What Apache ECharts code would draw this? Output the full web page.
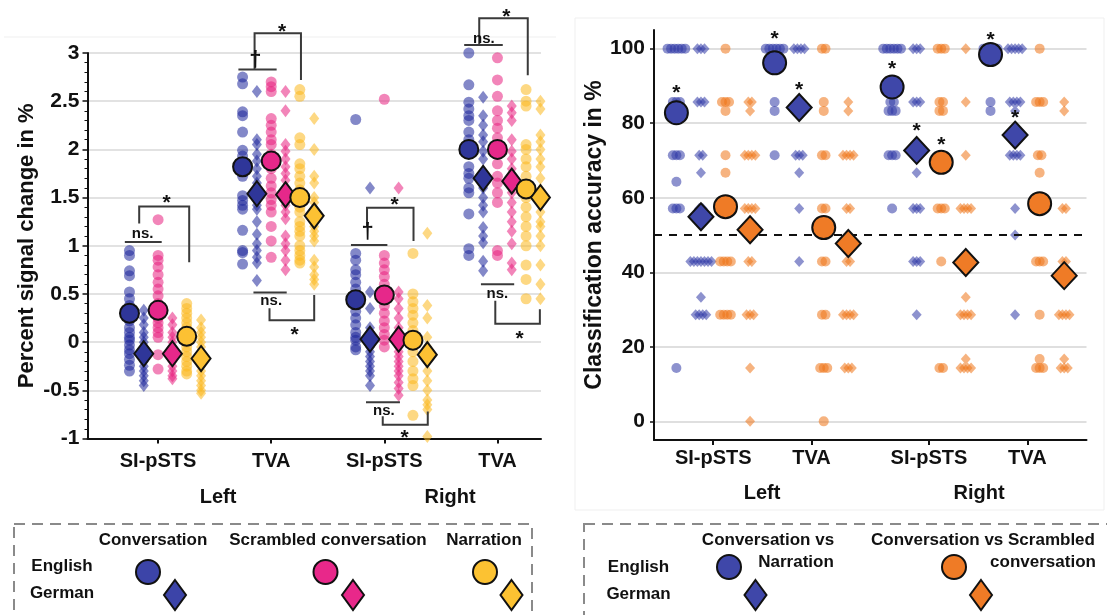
<!DOCTYPE html>
<html><head><meta charset="utf-8">
<script src="https://cdn.jsdelivr.net/npm/echarts@6/dist/echarts.min.js"></script>
<style>html,body{margin:0;padding:0;background:#fff}#c{width:1107px;height:615px}</style>
</head><body><div id="c"></div>
<script>
// ---------- Left panel: percent signal change ----------
const LEFT_CATS = ['SI-pSTS', 'TVA', 'SI-pSTS', 'TVA'];
const LEFT_POS = [1, 2, 3, 4];
const LEFT_GROUPS = ['Left', 'Right'];

// individual subjects, one list per region (L SI-pSTS, L TVA, R SI-pSTS, R TVA)
const L_EN_CONV = [
  [0.95, 0.9, 0.74, 0.69, 0.52, 0.45, 0.38, 0.33, 0.27, 0.22, 0.15, 0.1, 0.05, 0.02, -0.03, -0.08, -0.12, -0.18, -0.24, -0.3],
  [2.75, 2.68, 2.39, 2.35, 2.18, 1.99, 1.93, 1.78, 1.72, 1.52, 1.47, 1.42, 1.38, 1.16, 0.95, 0.93, 0.81],
  [2.31, 0.92, 0.85, 0.75, 0.7, 0.62, 0.55, 0.48, 0.4, 0.32, 0.25, 0.18, 0.1, 0.05, 0.02, -0.05, -0.08],
  [3.0, 2.67, 2.49, 2.42, 2.35, 2.3, 2.18, 2.1, 2.05, 1.82, 1.75, 1.7, 1.6, 1.55, 1.33, 0.97, 0.9]
];
const L_DE_CONV = [
  [0.33, 0.25, 0.18, 0.1, 0.05, 0.0, -0.05, -0.1, -0.15, -0.2, -0.25, -0.3, -0.35, -0.4, -0.45, -0.18],
  [2.6, 2.1, 2.05, 1.95, 1.88, 1.8, 1.72, 1.65, 1.58, 1.5, 1.42, 1.38, 1.25, 1.12, 1.02, 0.95, 0.88, 0.82, 0.64],
  [1.6, 0.52, 0.35, 0.15, 0.1, 0.05, 0.0, -0.05, -0.1, -0.15, -0.2, -0.25, -0.3, -0.35, -0.45],
  [2.54, 2.35, 2.25, 2.15, 2.08, 1.98, 1.9, 1.77, 1.7, 1.6, 1.5, 1.42, 1.35, 1.19, 1.1, 1.03, 0.84, 0.74]
];
const L_EN_SCR = [
  [1.27, 0.9, 0.85, 0.78, 0.7, 0.62, 0.55, 0.48, 0.4, 0.35, 0.3, 0.25, 0.2, 0.15, 0.1, 0.05, -0.13, -0.28],
  [2.7, 2.65, 2.6, 2.32, 2.25, 2.18, 2.1, 2.05, 1.95, 1.8, 1.7, 1.62, 1.55, 1.48, 1.42, 1.35, 1.2, 1.05, 0.88],
  [2.52, 0.9, 0.82, 0.75, 0.68, 0.6, 0.52, 0.45, 0.38, 0.3, 0.22, 0.15, 0.08, 0.02, -0.05],
  [2.95, 2.72, 2.55, 2.4, 2.3, 2.22, 2.12, 2.05, 1.95, 1.85, 1.72, 1.65, 1.55, 1.45, 0.95, 0.9]
];
const L_DE_SCR = [
  [0.25, 0.18, 0.1, 0.05, 0.0, -0.05, -0.1, -0.15, -0.2, -0.25, -0.3, -0.35, -0.38],
  [2.6, 2.4, 2.05, 1.98, 1.9, 1.82, 1.75, 1.68, 1.6, 1.5, 1.42, 1.35, 1.28, 1.1, 1.02, 0.95, 0.85, 0.75],
  [1.6, 0.52, 0.45, 0.35, 0.25, 0.15, 0.05, 0.0, -0.05, -0.1, -0.15, -0.2, -0.25, -0.3, -0.35, -0.42, -0.48, -0.55],
  [2.45, 2.38, 2.3, 2.1, 1.98, 1.9, 1.8, 1.72, 1.62, 1.55, 1.45, 1.35, 1.25, 1.15, 1.02, 0.82, 0.75]
];
const L_EN_NAR = [
  [0.4, 0.35, 0.3, 0.25, 0.2, 0.15, 0.1, 0.05, 0.0, -0.05, -0.1, -0.15, -0.2, -0.25, -0.3, -0.33],
  [2.62, 2.55, 2.12, 2.05, 1.85, 1.8, 1.72, 1.65, 1.58, 1.45, 1.4, 1.35, 1.25, 1.2, 1.15, 1.1, 1.0, 0.95, 0.9, 0.85, 0.82],
  [0.92, 0.5, 0.42, 0.35, 0.28, 0.2, 0.12, 0.05, 0.0, -0.1, -0.2, -0.3, -0.38, -0.45, -0.76],
  [2.62, 2.5, 2.45, 2.05, 2.0, 1.9, 1.82, 1.72, 1.62, 1.5, 1.4, 1.3, 1.2, 1.1, 1.0, 0.8, 0.65, 0.45]
];
const L_DE_NAR = [
  [0.23, 0.15, 0.1, 0.05, 0.0, -0.05, -0.1, -0.15, -0.2, -0.25, -0.3, -0.35, -0.4, -0.45, -0.5, -0.53],
  [2.32, 2.0, 1.72, 1.65, 1.5, 1.45, 1.38, 1.28, 1.2, 1.15, 1.1, 1.05, 0.85, 0.78, 0.7, 0.65, 0.6],
  [1.13, 0.38, 0.25, 0.05, -0.05, -0.1, -0.2, -0.3, -0.4, -0.5, -0.6, -0.65, -0.7, -0.98],
  [2.5, 2.42, 2.15, 2.08, 2.0, 1.9, 1.82, 1.7, 1.58, 1.45, 1.35, 1.25, 1.2, 1.1, 1.0, 0.8, 0.6, 0.45]
];
// group means
const L_MEAN_EN_CONV = [0.30, 1.82, 0.44, 2.00];
const L_MEAN_DE_CONV = [-0.12, 1.54, 0.03, 1.70];
const L_MEAN_EN_SCR = [0.33, 1.88, 0.49, 2.00];
const L_MEAN_DE_SCR = [-0.12, 1.53, 0.03, 1.67];
const L_MEAN_EN_NAR = [0.06, 1.50, 0.02, 1.59];
const L_MEAN_DE_NAR = [-0.17, 1.31, -0.13, 1.50];

// significance marks (data units): plain lines [x1, x2, y]
const L_SIG_LINES = [
  [0.706, 1.032, 1.04], [1.710, 2.048, 2.83], [1.843, 2.137, 0.514],
  [2.705, 3.027, 1.007], [2.838, 3.138, -0.625], [3.706, 4.047, 3.083], [3.854, 4.148, 0.60]
];
// brackets [x1, x2, yBar, yLeftEnd, yRightEnd]
const L_SIG_BRACKETS = [
  [0.833, 1.275, 1.406, 1.23, 0.83],
  [1.853, 2.263, 3.205, 2.83, 2.72],
  [1.985, 2.380, 0.226, 0.351, 0.49],
  [2.847, 3.258, 1.393, 1.2, 1.05],
  [2.986, 3.384, -0.857, -0.77, -0.72],
  [3.839, 4.268, 3.36, 3.083, 2.77],
  [3.981, 4.375, 0.19, 0.43, 0.34]
];
const L_SIG_TEXT = [
  [0.864, 1.12, 'ns.'], [1.076, 1.49, '*'], [1.859, 2.93, '†'], [2.096, 3.27, '*'],
  [2.0, 0.43, 'ns.'], [2.206, 0.12, '*'], [2.853, 1.14, '†'], [3.090, 1.47, '*'],
  [2.996, -0.71, 'ns.'], [3.179, -0.945, '*'], [3.880, 3.15, 'ns.'], [4.079, 3.42, '*'],
  [4.0, 0.50, 'ns.'], [4.196, 0.08, '*']
];

// ---------- Right panel: classification accuracy ----------
const RIGHT_CATS = ['SI-pSTS', 'TVA', 'SI-pSTS', 'TVA'];
const RIGHT_POS = [1, 2, 3.196, 4.198];
const RIGHT_Y_TICKS = [0, 20, 40, 60, 80, 100];
const CHANCE = 50;

const R_EN_CVN = [
  [100, 100, 100, 100, 100, 100, 85.7, 85.7, 85.7, 83.3, 71.4, 71.4, 71.4, 64.3, 57.1, 57.1, 57.1, 14.3],
  [100, 100, 100, 100, 100, 100, 85.7, 83.3, 71.4],
  [100, 100, 100, 100, 100, 100, 85.7, 85.7, 83.3, 83.3, 83.3, 71.4, 71.4, 71.4, 57.1],
  [100, 100, 100, 100, 100, 85.7, 83.3]
];
const R_DE_CVN = [
  [100, 100, 100, 85.7, 85.7, 85.7, 71.4, 71.4, 66.7, 57.1, 57.1, 42.9, 42.9, 42.9, 42.9, 42.9, 42.9, 42.9, 33.3, 28.6, 28.6, 28.6, 28.6],
  [100, 100, 100, 100, 85.7, 85.7, 71.4, 71.4, 71.4, 66.7, 57.1, 42.9],
  [100, 100, 100, 85.7, 85.7, 85.7, 71.4, 66.7, 57.1, 57.1, 57.1, 42.9, 42.9, 42.9, 28.6],
  [100, 100, 100, 100, 100, 85.7, 85.7, 85.7, 85.7, 83.3, 71.4, 71.4, 71.4, 71.4, 57.1, 50, 28.6]
];
const R_EN_CVS = [
  [100, 85.7, 85.7, 85.7, 83.3, 71.4, 66.7, 57.1, 42.9, 42.9, 42.9, 42.9, 28.6, 28.6, 28.6, 28.6],
  [100, 100, 85.7, 83.3, 71.4, 71.4, 57.1, 57.1, 42.9, 42.9, 28.6, 28.6, 14.3, 14.3, 14.3, 0],
  [100, 100, 100, 85.7, 85.7, 83.3, 83.3, 71.4, 57.1, 57.1, 57.1, 42.9, 14.3, 14.3],
  [100, 85.7, 85.7, 85.7, 71.4, 71.4, 66.7, 57.1, 42.9, 42.9, 42.9, 28.6, 16.7, 14.3, 14.3, 14.3]
];
const R_DE_CVS = [
  [85.7, 85.7, 83.3, 71.4, 71.4, 71.4, 71.4, 57.1, 57.1, 57.1, 57.1, 42.9, 42.9, 28.6, 28.6, 28.6, 14.3, 0],
  [85.7, 83.3, 71.4, 71.4, 71.4, 71.4, 57.1, 57.1, 42.9, 42.9, 28.6, 28.6, 28.6, 28.6, 14.3, 14.3, 14.3],
  [100, 85.7, 71.4, 57.1, 57.1, 57.1, 57.1, 42.9, 33.3, 28.6, 28.6, 28.6, 28.6, 16.7, 14.3, 14.3, 14.3, 14.3],
  [85.7, 83.3, 57.1, 57.1, 42.9, 42.9, 28.6, 28.6, 28.6, 28.6, 16.7, 14.3, 14.3, 14.3]
];
const R_MEAN_EN_CVN = [82.8, 96.2, 89.7, 98.4];
const R_MEAN_DE_CVN = [54.9, 84.2, 72.7, 76.8];
const R_MEAN_EN_CVS = [57.6, 52.0, 69.5, 58.4];
const R_MEAN_DE_CVS = [51.4, 47.7, 42.6, 39.1];
// significance stars [region, condition, y]
const R_STARS = [[0, 0, 89.3], [1, 0, 104], [1, 1, 90.2], [2, 0, 95.7], [2, 1, 79.3], [2, 2, 75.4], [3, 0, 103.6], [3, 1, 82.6]];

// ---------- styling ----------
const FONT = "'Liberation Sans', Arial, Helvetica, sans-serif";
const INK = '#111111';
const LEFT_OFF = [-0.253, -0.1265, 0, 0.1265, 0.253, 0.38];
const RIGHT_OFF = [-0.375, -0.125, 0.125, 0.375];
const JIT = 0.036;

const leftConds = [
  { vals: L_EN_CONV, mean: L_MEAN_EN_CONV, dot: '#1d279a', fill: '#2f3699', sym: 'circle' },
  { vals: L_DE_CONV, mean: L_MEAN_DE_CONV, dot: '#1d279a', fill: '#2f3699', sym: 'diamond' },
  { vals: L_EN_SCR, mean: L_MEAN_EN_SCR, dot: '#e8207f', fill: '#e6288a', sym: 'circle' },
  { vals: L_DE_SCR, mean: L_MEAN_DE_SCR, dot: '#e8207f', fill: '#e6288a', sym: 'diamond' },
  { vals: L_EN_NAR, mean: L_MEAN_EN_NAR, dot: '#fbb81e', fill: '#fcc133', sym: 'circle' },
  { vals: L_DE_NAR, mean: L_MEAN_DE_NAR, dot: '#fbb81e', fill: '#fcc133', sym: 'diamond' }
];
const rightConds = [
  { vals: R_EN_CVN, mean: R_MEAN_EN_CVN, dot: '#3038a6', fill: '#3f47a9', sym: 'circle' },
  { vals: R_DE_CVN, mean: R_MEAN_DE_CVN, dot: '#3038a6', fill: '#3f47a9', sym: 'diamond' },
  { vals: R_EN_CVS, mean: R_MEAN_EN_CVS, dot: '#ef7418', fill: '#ef7b26', sym: 'circle' },
  { vals: R_DE_CVS, mean: R_MEAN_DE_CVS, dot: '#ef7418', fill: '#ef7b26', sym: 'diamond' }
];

function nearestLabel(v, pos, cats) {
  let best = 0;
  for (let i = 1; i < pos.length; i++) if (Math.abs(pos[i] - v) < Math.abs(pos[best] - v)) best = i;
  return cats[best];
}

const series = [];
// left dots
leftConds.forEach((c, k) => {
  const data = [];
  c.vals.forEach((arr, r) => arr.forEach(v => data.push([LEFT_POS[r] + LEFT_OFF[k], v])));
  series.push({
    type: 'scatter', xAxisIndex: 0, yAxisIndex: 0, silent: true, z: 2,
    symbol: c.sym, symbolSize: c.sym === 'circle' ? 11 : [10, 13],
    itemStyle: { color: c.dot, opacity: 0.55 }, data
  });
});
// right dots (stacked duplicates spread sideways)
rightConds.forEach((c, k) => {
  const data = [];
  c.vals.forEach((arr, r) => {
    const counts = {}, seen = {};
    arr.forEach(v => counts[v] = (counts[v] || 0) + 1);
    arr.forEach(v => {
      const i = seen[v] || 0; seen[v] = i + 1;
      const off = (i - (counts[v] - 1) / 2) * JIT;
      data.push([RIGHT_POS[r] + RIGHT_OFF[k] + off, v]);
    });
  });
  const s = {
    type: 'scatter', xAxisIndex: 1, yAxisIndex: 1, silent: true, z: 2,
    symbol: c.sym, symbolSize: c.sym === 'circle' ? 10 : [10, 11],
    itemStyle: { color: c.dot, opacity: 0.55 }, data
  };
  if (k === 3) {
    s.markLine = {
      silent: true, symbol: 'none', label: { show: false },
      lineStyle: { color: INK, width: 2, type: [8, 7] },
      data: [{ yAxis: CHANCE }]
    };
  }
  series.push(s);
});
// means
leftConds.forEach((c, k) => {
  series.push({
    type: 'scatter', xAxisIndex: 0, yAxisIndex: 0, silent: true, z: 5,
    symbol: c.sym, symbolSize: c.sym === 'circle' ? 19 : [19, 25],
    itemStyle: { color: c.fill, borderColor: INK, borderWidth: 2, opacity: 1 },
    data: c.mean.map((v, r) => [LEFT_POS[r] + LEFT_OFF[k], v])
  });
});
rightConds.forEach((c, k) => {
  series.push({
    type: 'scatter', xAxisIndex: 1, yAxisIndex: 1, silent: true, z: 5,
    symbol: c.sym, symbolSize: c.sym === 'circle' ? 23 : [25, 27],
    itemStyle: { color: c.fill, borderColor: INK, borderWidth: 2, opacity: 1 },
    data: c.mean.map((v, r) => [RIGHT_POS[r] + RIGHT_OFF[k], v])
  });
});

// significance marks
function textEl(p, t) {
  const isStar = t === '*';
  return {
    type: 'text', x: p[0], y: p[1] + (isStar ? 5 : 0),
    style: {
      text: t, fill: INK, align: 'center', verticalAlign: 'middle',
      font: (isStar ? 'bold 21px ' : (t === 'ns.' ? 'bold 15px ' : 'bold 22px ')) + FONT
    }
  };
}
series.push({
  type: 'custom', xAxisIndex: 0, yAxisIndex: 0, silent: true, clip: false, z: 6,
  data: L_SIG_LINES.map(a => [a[0], a[2]]),
  renderItem: (params, api) => {
    const a = L_SIG_LINES[params.dataIndex];
    const p1 = api.coord([a[0], a[2]]), p2 = api.coord([a[1], a[2]]);
    return { type: 'line', shape: { x1: p1[0], y1: p1[1], x2: p2[0], y2: p2[1] }, style: { stroke: '#3a3a3a', lineWidth: 2 } };
  }
});
series.push({
  type: 'custom', xAxisIndex: 0, yAxisIndex: 0, silent: true, clip: false, z: 6,
  data: L_SIG_BRACKETS.map(a => [a[0], a[2]]),
  renderItem: (params, api) => {
    const a = L_SIG_BRACKETS[params.dataIndex];
    const pts = [api.coord([a[0], a[3]]), api.coord([a[0], a[2]]), api.coord([a[1], a[2]]), api.coord([a[1], a[4]])];
    return { type: 'polyline', shape: { points: pts }, style: { stroke: '#3a3a3a', lineWidth: 2, fill: null } };
  }
});
series.push({
  type: 'custom', xAxisIndex: 0, yAxisIndex: 0, silent: true, clip: false, z: 6,
  data: L_SIG_TEXT.map(a => [a[0], a[1]]),
  renderItem: (params, api) => {
    const a = L_SIG_TEXT[params.dataIndex];
    return textEl(api.coord([a[0], a[1]]), a[2]);
  }
});
series.push({
  type: 'custom', xAxisIndex: 1, yAxisIndex: 1, silent: true, clip: false, z: 6,
  data: R_STARS.map(a => [RIGHT_POS[a[0]] + RIGHT_OFF[a[1]], a[2]]),
  renderItem: (params, api) => textEl(api.coord([api.value(0), api.value(1)]), '*')
});

const axisLabelBase = { color: INK, fontWeight: 'bold', fontFamily: FONT };
const option = {
  backgroundColor: '#ffffff',
  animation: false,
  grid: [
    { left: 87.5, top: 53, width: 453.5, height: 385.5 },
    { left: 654, top: 30, width: 432.5, height: 410 }
  ],
  xAxis: [
    {
      gridIndex: 0, type: 'value', min: 0.376, max: 4.385, splitLine: { show: false },
      axisLine: { onZero: false, lineStyle: { color: INK, width: 2 } },
      axisTick: { customValues: LEFT_POS, length: 5, lineStyle: { color: INK, width: 2 } },
      axisLabel: Object.assign({ customValues: LEFT_POS, margin: 13, fontSize: 20, formatter: v => nearestLabel(v, LEFT_POS, LEFT_CATS) }, axisLabelBase)
    },
    {
      gridIndex: 1, type: 'value', min: 0.397, max: 4.80, splitLine: { show: false },
      axisLine: { onZero: false, lineStyle: { color: INK, width: 2 } },
      axisTick: { customValues: RIGHT_POS, length: 5, lineStyle: { color: INK, width: 2 } },
      axisLabel: Object.assign({ customValues: RIGHT_POS, margin: 8, fontSize: 20, formatter: v => nearestLabel(v, RIGHT_POS, RIGHT_CATS) }, axisLabelBase)
    }
  ],
  yAxis: [
    {
      gridIndex: 0, type: 'value', min: -1, max: 3, interval: 0.5,
      name: 'Percent signal change in %', nameLocation: 'middle', nameGap: 50, nameRotate: 90,
      nameTextStyle: { fontSize: 22, fontWeight: 'bold', color: INK, fontFamily: FONT },
      axisLine: { show: true, onZero: false, lineStyle: { color: INK, width: 2 } },
      axisTick: { show: true, length: 5, lineStyle: { color: INK, width: 1.5 } },
      minorTick: { show: true, splitNumber: 5, length: 3, lineStyle: { color: INK, width: 1 } },
      splitLine: { show: true, lineStyle: { color: '#d8d8d8', width: 1.5 } },
      axisLabel: Object.assign({ fontSize: 21, margin: 8 }, axisLabelBase)
    },
    {
      gridIndex: 1, type: 'value', min: -5, max: 105,
      name: 'Classification accuracy in %', nameLocation: 'middle', nameGap: 47, nameRotate: 90,
      nameTextStyle: { fontSize: 23, fontWeight: 'bold', color: INK, fontFamily: FONT },
      axisLine: { show: true, onZero: false, lineStyle: { color: INK, width: 2 } },
      axisTick: { show: true, customValues: RIGHT_Y_TICKS, length: 4, lineStyle: { color: INK, width: 1.5 } },
      splitLine: { show: true, lineStyle: { color: '#d4d4d4', width: 1.5 } },
      axisLabel: Object.assign({ customValues: RIGHT_Y_TICKS, fontSize: 21, margin: 9 }, axisLabelBase)
    }
  ],
  series,
  graphic: []
};

// group labels and legends
const G = option.graphic;
function txt(x, y, t, size, extra) {
  G.push(Object.assign({ type: 'text', x, y, silent: true, style: { text: t, fill: INK, font: 'bold ' + size + 'px ' + FONT, align: 'center', verticalAlign: 'middle' } }, extra || {}));
}
function legCircle(x, y, color) {
  G.push({ type: 'circle', silent: true, shape: { cx: x, cy: y, r: 12 }, style: { fill: color, stroke: INK, lineWidth: 2 } });
}
function legDiamond(x, y, color) {
  G.push({ type: 'polygon', silent: true, shape: { points: [[x, y - 15], [x + 11, y], [x, y + 15], [x - 11, y]] }, style: { fill: color, stroke: INK, lineWidth: 2 } });
}
// faint panel frames
G.push({ type: 'line', silent: true, shape: { x1: 4, y1: 37, x2: 556, y2: 37 }, style: { stroke: '#efefef', lineWidth: 1 } });
G.push({ type: 'rect', silent: true, shape: { x: 575, y: 18, width: 529, height: 492 }, style: { fill: 'none', stroke: '#efefef', lineWidth: 1 } });

txt(218, 497, LEFT_GROUPS[0], 20);
txt(450, 497, LEFT_GROUPS[1], 20);
txt(762, 493, LEFT_GROUPS[0], 20);
txt(979, 493, LEFT_GROUPS[1], 20);

// left legend
G.push({ type: 'rect', silent: true, shape: { x: 14, y: 524, width: 518, height: 110 }, style: { fill: 'none', stroke: '#8a8a8a', lineWidth: 2, lineDash: [11, 7] } });
txt(153, 540, 'Conversation', 17);
txt(328, 540, 'Scrambled conversation', 17);
txt(484, 540, 'Narration', 17);
txt(62, 566, 'English', 17);
txt(62, 593, 'German', 17);
legCircle(148, 572, '#3c44a8'); legDiamond(175, 595, '#3c44a8');
legCircle(325.5, 572, '#e8288a'); legDiamond(353, 595, '#e8288a');
legCircle(485, 572, '#fcc232'); legDiamond(511.5, 595, '#fcc232');

// right legend
G.push({ type: 'rect', silent: true, shape: { x: 584, y: 524, width: 560, height: 110 }, style: { fill: 'none', stroke: '#8a8a8a', lineWidth: 2, lineDash: [11, 7] } });
txt(768, 540, 'Conversation vs', 17);
txt(796, 562, 'Narration', 17);
txt(983, 540, 'Conversation vs Scrambled', 17);
txt(1043, 562, 'conversation', 17);
txt(638.5, 567, 'English', 17);
txt(638.5, 594, 'German', 17);
legCircle(729, 567, '#3f47a9'); legDiamond(755.5, 595, '#3f47a9');
legCircle(954, 567, '#ef7b26'); legDiamond(981, 595, '#ef7b26');

const chart = echarts.init(document.getElementById('c'), null, { renderer: 'canvas', width: 1107, height: 615 });
chart.setOption(option);
</script></body></html>
